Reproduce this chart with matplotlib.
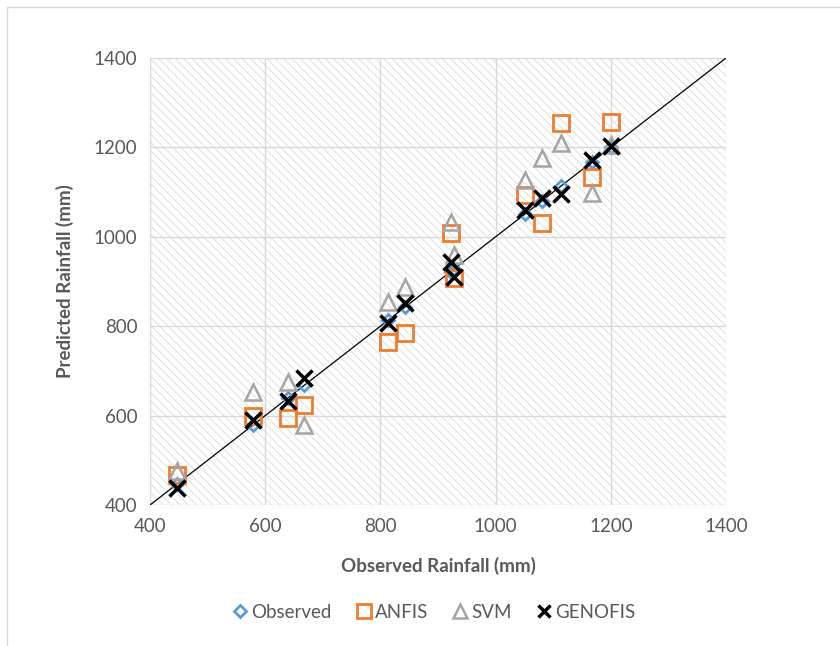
import matplotlib
matplotlib.use("Agg")
import matplotlib.pyplot as plt
from matplotlib.patches import Rectangle
from matplotlib.lines import Line2D

plt.rcParams['font.family'] = ['Lato', 'DejaVu Sans']
plt.rcParams['hatch.linewidth'] = 0.6

observed_x = [447, 578, 640, 668, 813, 842, 922, 928, 1051, 1081, 1113, 1167, 1200]
observed_y = [447, 578, 640, 668, 813, 842, 922, 928, 1051, 1081, 1113, 1167, 1200]
anfis_y = [467, 600, 595, 624, 765, 785, 1008, 908, 1093, 1031, 1255, 1134, 1257]
svm_y = [476, 653, 675, 579, 854, 888, 1033, 959, 1127, 1176, 1210, 1098, 1205]
genofis_y = [438, 590, 633, 684, 807, 852, 943, 910, 1060, 1087, 1095, 1172, 1203]

axis_ticks = [400, 600, 800, 1000, 1200, 1400]
series_names = ["Observed", "ANFIS", "SVM", "GENOFIS"]

txt = '#595959'
fig = plt.figure(figsize=(8.4, 6.46), dpi=100)
fig.patch.set_facecolor('white')
# outer frame
fig.add_artist(Rectangle((7/840, -0.01), 1.0, 1 - 7/646 + 0.01, transform=fig.transFigure,
                         fill=False, edgecolor='#d9d9d9', linewidth=1.0))

ax = fig.add_axes([150/840, 1 - 505/646, 576/840, 447/646])
ax.set_xlim(400, 1400)
ax.set_ylim(400, 1400)
ax.patch.set_alpha(0)
bg = Rectangle((0, 0), 1, 1, transform=ax.transAxes, facecolor='white',
               edgecolor='#dcdcdc', hatch='\\\\\\\\', linewidth=0, zorder=0)
ax.add_patch(bg)
for s in ax.spines.values():
    s.set_visible(False)
ax.set_xticks(axis_ticks)
ax.set_yticks(axis_ticks)
ax.grid(True, color='#d9d9d9', linewidth=1.0, zorder=1)
ax.set_axisbelow(True)
ax.tick_params(length=0, labelsize=13.5, labelcolor=txt, pad=9)
ax.plot([400, 1400], [400, 1400], color='black', linewidth=0.9, zorder=2)

ax.plot(observed_x, observed_y, linestyle='none', marker='D', ms=6, mfc='none',
        mec='#5B9BD5', mew=2, zorder=3, label=series_names[0])
ax.plot(observed_x, anfis_y, linestyle='none', marker='s', ms=11, mfc='none',
        mec='#ED7D31', mew=2, zorder=4, label=series_names[1])
ax.plot(observed_x, svm_y, linestyle='none', marker='^', ms=11, mfc='none',
        mec='#A5A5A5', mew=1.8, zorder=5, label=series_names[2])
ax.plot(observed_x, genofis_y, linestyle='none', marker='x', ms=11, mfc='none',
        mec='black', mew=2.5, zorder=6, label=series_names[3])

ax.set_xlabel("Observed Rainfall (mm)", fontsize=13.5, fontweight='bold', color=txt, labelpad=16)
ax.set_ylabel("Predicted Rainfall (mm)", fontsize=13.5, fontweight='bold', color=txt, labelpad=14)

handles = [
    Line2D([], [], linestyle='none', marker='D', ms=6, mfc='none', mec='#5B9BD5', mew=2),
    Line2D([], [], linestyle='none', marker='s', ms=10, mfc='none', mec='#ED7D31', mew=2),
    Line2D([], [], linestyle='none', marker='^', ms=10, mfc='none', mec='#A5A5A5', mew=1.8),
    Line2D([], [], linestyle='none', marker='x', ms=9, mfc='none', mec='black', mew=2.5),
]
fig.legend(handles, series_names, loc='center', bbox_to_anchor=(433/840, 1 - 612/646),
           ncol=4, frameon=False, fontsize=13.5, labelcolor=txt, handletextpad=0.1,
           columnspacing=1.2, handlelength=1.0)

fig.savefig("out.png", dpi=100, facecolor='white')
